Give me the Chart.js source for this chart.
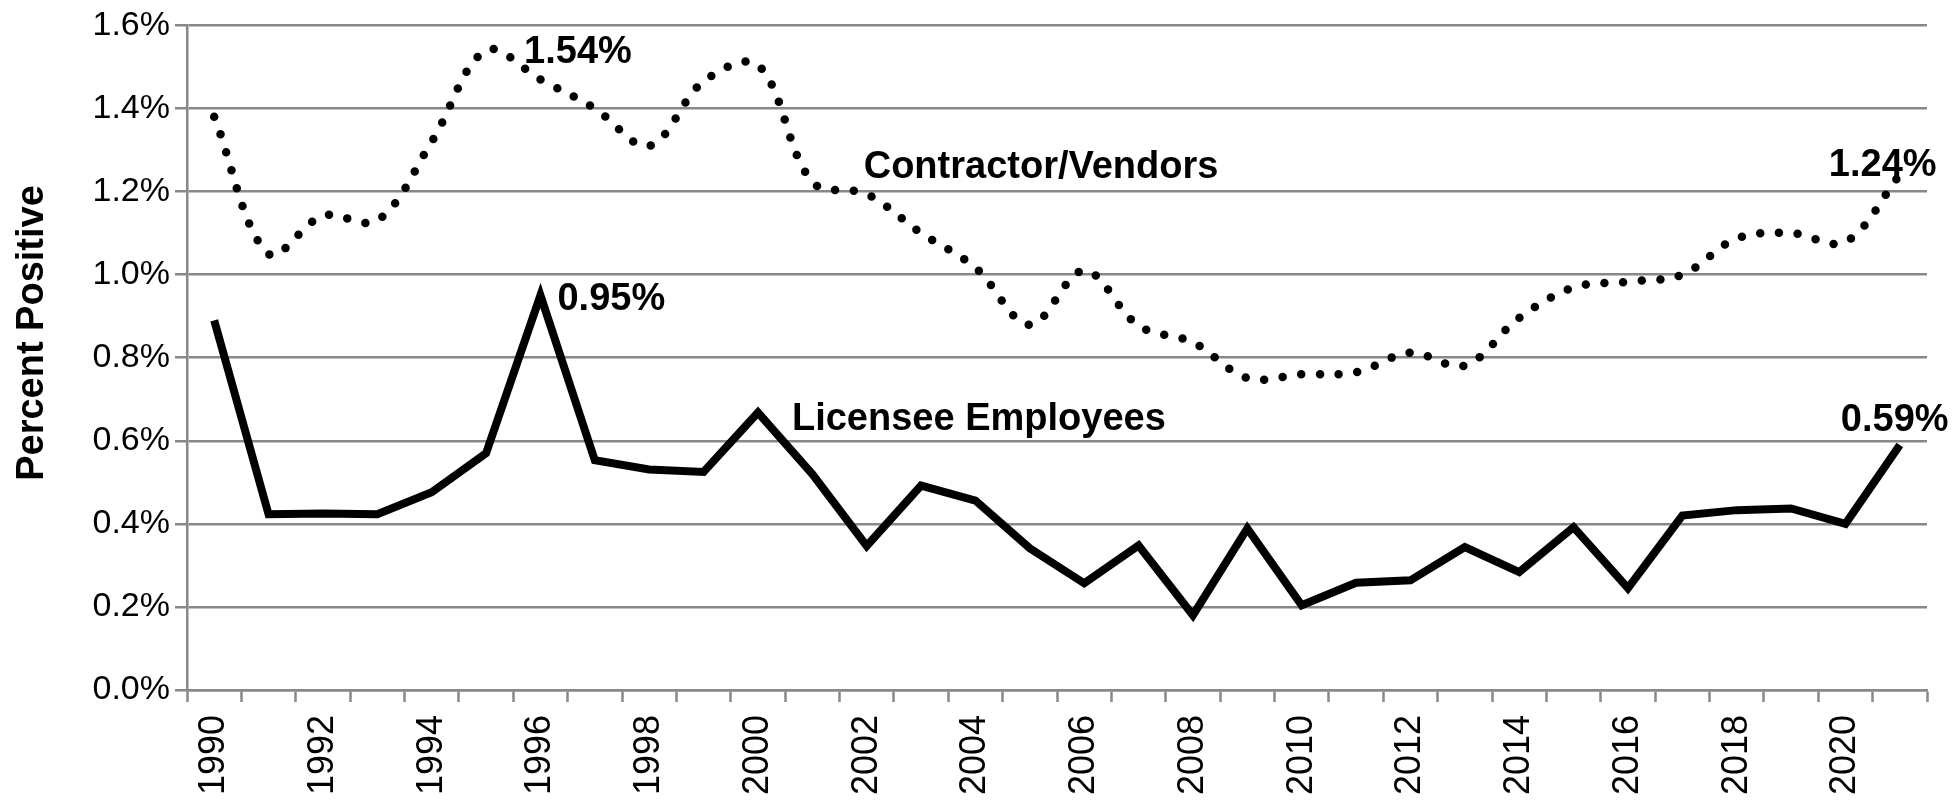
<!DOCTYPE html>
<html>
<head>
<meta charset="utf-8">
<script src="https://cdn.jsdelivr.net/npm/chart.js@4.4.1/dist/chart.umd.min.js"></script>
<style>
  html, body { margin: 0; padding: 0; background: #fff; }
  #wrap { width: 1960px; height: 801px; }
</style>
</head>
<body>
<div id="wrap"><canvas id="chart" width="1960" height="801"></canvas></div>
<script>
// values (percent positive)
const years = ["1990","1991","1992","1993","1994","1995","1996","1997","1998","1999",
  "2000","2001","2002","2003","2004","2005","2006","2007","2008","2009",
  "2010","2011","2012","2013","2014","2015","2016","2017","2018","2019","2020","2021"];

const licensee = [0.89, 0.423, 0.425, 0.423, 0.476, 0.57, 0.95, 0.553, 0.531, 0.525,
  0.668, 0.52, 0.347, 0.492, 0.456, 0.341, 0.257, 0.348, 0.18, 0.389,
  0.204, 0.258, 0.264, 0.344, 0.284, 0.392, 0.245, 0.42, 0.433, 0.437, 0.4, 0.59];

const contractors = [1.38, 1.05, 1.142, 1.13, 1.32, 1.54, 1.47, 1.40, 1.31, 1.465,
  1.505, 1.223, 1.194, 1.10, 1.017, 0.879, 1.01, 0.877, 0.837, 0.751,
  0.76, 0.765, 0.812, 0.781, 0.896, 0.969, 0.983, 1.0, 1.087, 1.10, 1.079, 1.24];

const yTicks = [0, 0.2, 0.4, 0.6, 0.8, 1.0, 1.2, 1.4, 1.6];

const gray = "#888888";
const FONT = '"Liberation Sans", Arial, sans-serif';

// text placed next to data points (dataset index, point index, pixel offset)
const notes = [
  { text: "1.54%", ds: 1, i: 5, dx: 38, dy: 13 },
  { text: "1.24%", ds: 1, i: 31, dx: -71, dy: 1 },
  { text: "Contractor/Vendors", ds: 1, i: 12, dx: -3, dy: -16 },
  { text: "0.95%", ds: 0, i: 6, dx: 17, dy: 15 },
  { text: "Licensee Employees", ds: 0, i: 10, dx: 34, dy: 17 },
  { text: "0.59%", ds: 0, i: 31, dx: -59, dy: -14 }
];

const notesPlugin = {
  id: "notes",
  afterDatasetsDraw(chart) {
    const ctx = chart.ctx;
    ctx.save();
    ctx.fillStyle = "#000";
    ctx.font = "bold 38px " + FONT;
    ctx.textAlign = "left";
    ctx.textBaseline = "alphabetic";
    notes.forEach(n => {
      const pt = chart.getDatasetMeta(n.ds).data[n.i];
      ctx.fillText(n.text, pt.x + n.dx, pt.y + n.dy);
    });
    ctx.restore();
  },
  afterDraw(chart) {
    // y axis title
    const ctx = chart.ctx;
    ctx.save();
    ctx.translate(43, 333);
    ctx.rotate(-Math.PI / 2);
    ctx.fillStyle = "#000";
    ctx.font = "bold 38px " + FONT;
    ctx.textAlign = "center";
    ctx.textBaseline = "alphabetic";
    ctx.fillText("Percent Positive", 0, 0);
    ctx.restore();
  }
};

Chart.defaults.font.family = FONT;
Chart.defaults.color = "#000";

new Chart(document.getElementById("chart"), {
  type: "line",
  data: {
    labels: years,
    datasets: [
      {
        label: "Licensee Employees",
        data: licensee,
        borderColor: "#000",
        borderWidth: 8,
        borderJoinStyle: "miter",
        pointRadius: 0,
        tension: 0
      },
      {
        label: "Contractor/Vendors",
        data: contractors,
        borderColor: "#000",
        borderWidth: 8.5,
        borderDash: [0, 18.7],
        borderCapStyle: "round",
        pointRadius: 0,
        tension: 0.35
      }
    ]
  },
  options: {
    responsive: false,
    animation: false,
    devicePixelRatio: 1,
    layout: { padding: { top: 6, right: 33, bottom: 0, left: 0 } },
    plugins: {
      legend: { display: false },
      tooltip: { enabled: false }
    },
    scales: {
      x: {
        offset: true,
        grid: {
          offset: true,
          drawOnChartArea: false,
          drawTicks: true,
          tickLength: 12,
          tickWidth: 2.5,
          tickColor: gray,
          color: gray
        },
        border: { display: true, color: gray, width: 2.5 },
        ticks: {
          autoSkip: false,
          maxRotation: 90,
          minRotation: 90,
          padding: 13,
          font: { size: 36 },
          callback: (v, i) => (i % 2 === 0 ? years[i] : "")
        },
        afterFit: s => { s.height = 111; }
      },
      y: {
        min: 0,
        max: 1.6,
        afterBuildTicks: s => { s.ticks = yTicks.map(v => ({ value: v })); },
        ticks: {
          padding: 5,
          font: { size: 34 },
          callback: v => v.toFixed(1) + "%"
        },
        grid: { color: gray, lineWidth: 2.5, tickLength: 12 },
        border: { display: true, color: gray, width: 2.5 },
        afterFit: s => { s.width = 187; }
      }
    }
  },
  plugins: [notesPlugin]
});
</script>
</body>
</html>
